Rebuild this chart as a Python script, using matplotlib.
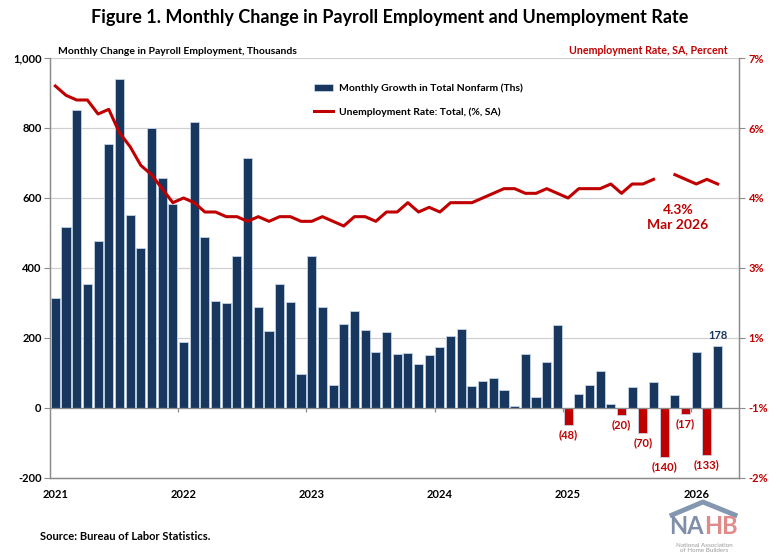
import numpy as np
import matplotlib.pyplot as plt
from matplotlib.lines import Line2D
from matplotlib.patches import Patch

plt.rcParams['font.family'] = ['Lato', 'DejaVu Sans']

navy = '#17375E'
red = '#C00000'
grey = '#8C8C8C'

years = ['2021', '2022', '2023', '2024', '2025', '2026']

# monthly change in payroll employment, thousands (Jan 2021 - Mar 2026)
payroll = [314, 517, 851, 354, 477, 754, 940, 551, 457, 800, 657, 583,
           189, 817, 489, 306, 300, 434, 714, 289, 220, 354, 303, 97,
           433, 288, 66, 240, 277, 223, 160, 217, 154, 157, 126, 151,
           173, 205, 226, 62, 77, 85, 51, 7, 154, 31, 131, 237,
           -48, 39, 66, 106, 11, -20, 61, -70, 74, -140, 38, -17,
           160, -133, 178]

# unemployment rate, percent (Oct 2025 not published)
unemp = [6.4, 6.2, 6.1, 6.1, 5.8, 5.9, 5.4, 5.1, 4.7, 4.5, 4.2, 3.9,
         4.0, 3.9, 3.7, 3.7, 3.6, 3.6, 3.5, 3.6, 3.5, 3.6, 3.6, 3.5,
         3.5, 3.6, 3.5, 3.4, 3.6, 3.6, 3.5, 3.7, 3.7, 3.9, 3.7, 3.8,
         3.7, 3.9, 3.9, 3.9, 4.0, 4.1, 4.2, 4.2, 4.1, 4.1, 4.2, 4.1,
         4.0, 4.2, 4.2, 4.2, 4.3, 4.1, 4.3, 4.3, 4.4, np.nan, 4.5, 4.4,
         4.3, 4.4, 4.3]

x = np.arange(len(payroll))
vals = np.array(payroll)

fig = plt.figure(figsize=(7.8, 5.59), dpi=100)
ax = fig.add_axes([50/780, 1 - 478/559, 689/780, 420/559])

colors = [navy if v >= 0 else red for v in vals]
ax.bar(x, vals, width=0.85, color=colors, edgecolor='#C5D3E6', linewidth=0.6, zorder=2)
ax.axhline(0, color=grey, lw=0.9, zorder=3)

# small tick marks between years on the zero line
bounds = np.arange(12, len(payroll), 12) - 0.5
ax.vlines(bounds, -10, 0, color=grey, lw=0.9, zorder=3)

ax.set_xlim(-0.5, 64)
ax.set_ylim(-200, 1000)
ax.set_yticks(np.arange(-200, 1001, 200))
ax.set_yticklabels([f'{t:,}' for t in range(-200, 1001, 200)], fontsize=8, fontweight='bold')
ax.set_xticks(np.arange(0, len(payroll), 12))
ax.set_xticklabels(years, fontsize=8, fontweight='bold')
ax.tick_params(axis='x', length=0, pad=8)
ax.tick_params(axis='y', length=4, width=0.8, color=grey, pad=2)
ax.grid(axis='y', color='#D0D0D0', lw=0.9, zorder=0)
ax.set_axisbelow(True)
ax.spines['top'].set_visible(False)
for s in ['left', 'bottom', 'right']:
    ax.spines[s].set_color(grey)
    ax.spines[s].set_linewidth(0.9)

# data labels
for xi, v in zip(x, vals):
    if v < 0:
        ax.text(xi, v - 12, f'({-v})', ha='center', va='top', fontsize=8,
                fontweight='bold', color=red)
ax.text(x[-1], vals[-1] + 14, f'{vals[-1]}', ha='center', va='bottom',
        fontsize=8, fontweight='bold', color=navy)

ax2 = ax.twinx()
ax2.plot(x, unemp, color=red, lw=2.2, zorder=4)
ax2.set_ylim(-2, 7)
rt = np.arange(-2, 7.01, 1.5)
# excel style rounding (half away from zero)
rl = [f'{int(np.sign(t) * np.floor(abs(t) + 0.5))}%' for t in rt]
ax2.set_yticks(rt)
ax2.set_yticklabels(rl, fontsize=8, fontweight='bold', color=red)
ax2.tick_params(axis='y', length=4, width=0.8, color=grey, pad=3)
ax2.spines['top'].set_visible(False)
for s in ['left', 'bottom', 'right']:
    ax2.spines[s].set_color(grey)
    ax2.spines[s].set_linewidth(0.9)

ax2.text(58.3, 3.88, f'{unemp[-1]}%\nMar 2026', ha='center', va='top',
         fontsize=10, fontweight='bold', color=red, linespacing=1.35)

handles = [Patch(facecolor=navy, edgecolor='#C5D3E6', lw=0.6),
           Line2D([0], [0], color=red, lw=2.2)]
leg = fig.legend(handles, ['Monthly Growth in Total Nonfarm (Ths)',
                           'Unemployment Rate: Total, (%, SA)'],
                 loc='upper left', bbox_to_anchor=(305/780, 1 - 74/559),
                 frameon=False, labelspacing=1.4, handlelength=1.8,
                 handletextpad=0.6, prop={'size': 7.5, 'weight': 'bold'})

fig.text(0.5, 1 - 18/559, 'Figure 1. Monthly Change in Payroll Employment and Unemployment Rate',
         ha='center', va='center', fontsize=13, fontweight='bold')
fig.text(58/780, 1 - 51/559, 'Monthly Change in Payroll Employment, Thousands',
         ha='left', va='center', fontsize=7.5, fontweight='bold')
fig.text(728/780, 1 - 51/559, 'Unemployment Rate, SA, Percent',
         ha='right', va='center', fontsize=7.7, fontweight='bold', color=red)
fig.text(40/780, 1 - 537/559, 'Source: Bureau of Labor Statistics.',
         ha='left', va='center', fontsize=8, fontweight='bold')

# NAHB logo
fig.add_artist(Line2D([672/780, 703/780, 735/780],
                      [1 - 515/559, 1 - 502/559, 1 - 515/559],
                      color='#8497B0', lw=3.5, transform=fig.transFigure))
fig.text(704/780, 1 - 527/559, 'NA', ha='right', va='center', fontsize=17,
         fontweight='bold', color='#7F8FA9')
fig.text(704/780, 1 - 527/559, 'HB', ha='left', va='center', fontsize=17,
         fontweight='bold', color='#E08A8A')
fig.text(704/780, 1 - 548/559, 'National Association\nof Home Builders',
         ha='center', va='center', fontsize=4.5, color='#999999', linespacing=1.2)

fig.savefig('out.png', dpi=100)
